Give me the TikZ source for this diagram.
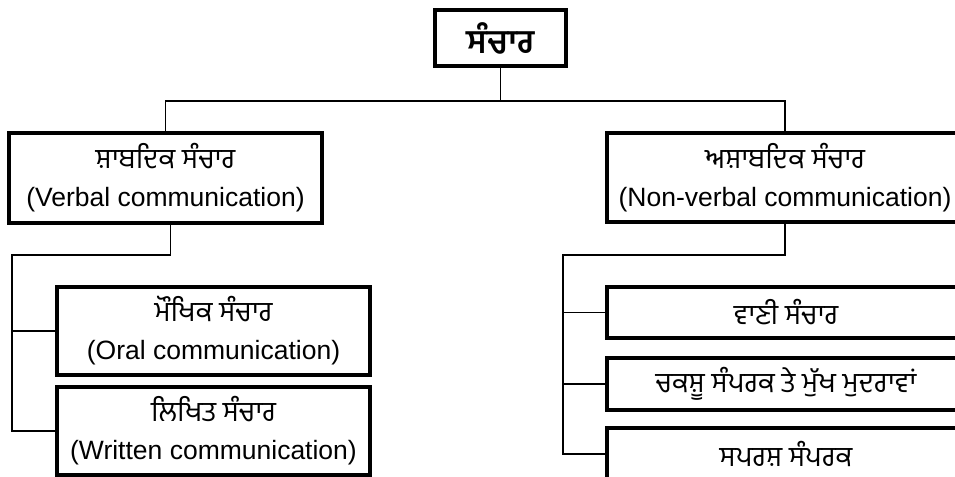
\documentclass[tikz,border=0pt]{standalone}
\usepackage{fontspec}
\setmainfont{Liberation Sans}
\newfontfamily\gur[Script=Gurmukhi]{Hind Jalandhar}
\usetikzlibrary{positioning,calc}
\tikzset{
  box/.style={draw,line width=1.6pt,inner sep=0pt,align=center,
    font=\fontsize{13.25}{19}\selectfont},
  link/.style={line width=0.9pt},
}
\newcommand*{\pa}[1]{{\gur\fontsize{14}{19}\selectfont #1}}

\begin{document}
\begin{tikzpicture}[x=0.5pt,y=-0.5pt]
\clip (0,0) rectangle (955,477);
\node[box,minimum width=65.5pt,minimum height=28pt] (root) at (500.5,38)
  {\gur\fontsize{16.5}{19}\selectfont\bfseries ਸੰਚਾਰ};
\node[box,minimum width=156.5pt,minimum height=45pt] (verbal) at (165.5,178)
  {\pa{ਸ਼ਾਬਦਿਕ ਸੰਚਾਰ}\\(Verbal communication)};
\node[box,minimum width=178pt,minimum height=44.5pt] (nonverbal) at (785,177.5)
  {\pa{ਅਸ਼ਾਬਦਿਕ ਸੰਚਾਰ}\\(Non-verbal communication)};
\node[box,minimum width=156.5pt,minimum height=44pt] (oral) at (213.5,331)
  {\pa{ਮੌਖਿਕ ਸੰਚਾਰ}\\(Oral communication)};
\node[box,minimum width=156.5pt,minimum height=44pt] (written) at (213.5,431)
  {\pa{ਲਿਖਿਤ ਸੰਚਾਰ}\\(Written communication)};
\node[box,minimum width=179pt,minimum height=25.5pt] (vaani) at (786,312.5)
  {\pa{ਵਾਣੀ ਸੰਚਾਰ}};
\node[box,minimum width=179pt,minimum height=26pt] (chakshu) at (786,384)
  {\pa{ਚਕਸ਼ੂ ਸੰਪਰਕ ਤੇ ਮੁੱਖ ਮੁਦਰਾਵਾਂ}};
\node[box,minimum width=179pt,minimum height=26pt] (sparsh) at (786,454)
  {\pa{ਸਪਰਸ਼ ਸੰਪਰਕ}};

% tree lines
\coordinate (jtop) at (500,101);
\coordinate (lrail) at (12,255);
\coordinate (rrail) at (563,255);
\draw[link] (root.south) -- (root.south|-jtop);
\draw[link] (verbal.north) |- (jtop) -| (nonverbal.north);
\draw[link] ([xshift=2.5pt]verbal.south) |- (lrail) |- (written.west);
\draw[link] (lrail|-oral.west) -- (oral.west);
\draw[link] (nonverbal.south) |- (rrail) |- (sparsh.west);
\draw[link] (rrail|-vaani.west) -- (vaani.west);
\draw[link] (rrail|-chakshu.west) -- (chakshu.west);
\end{tikzpicture}
\end{document}
